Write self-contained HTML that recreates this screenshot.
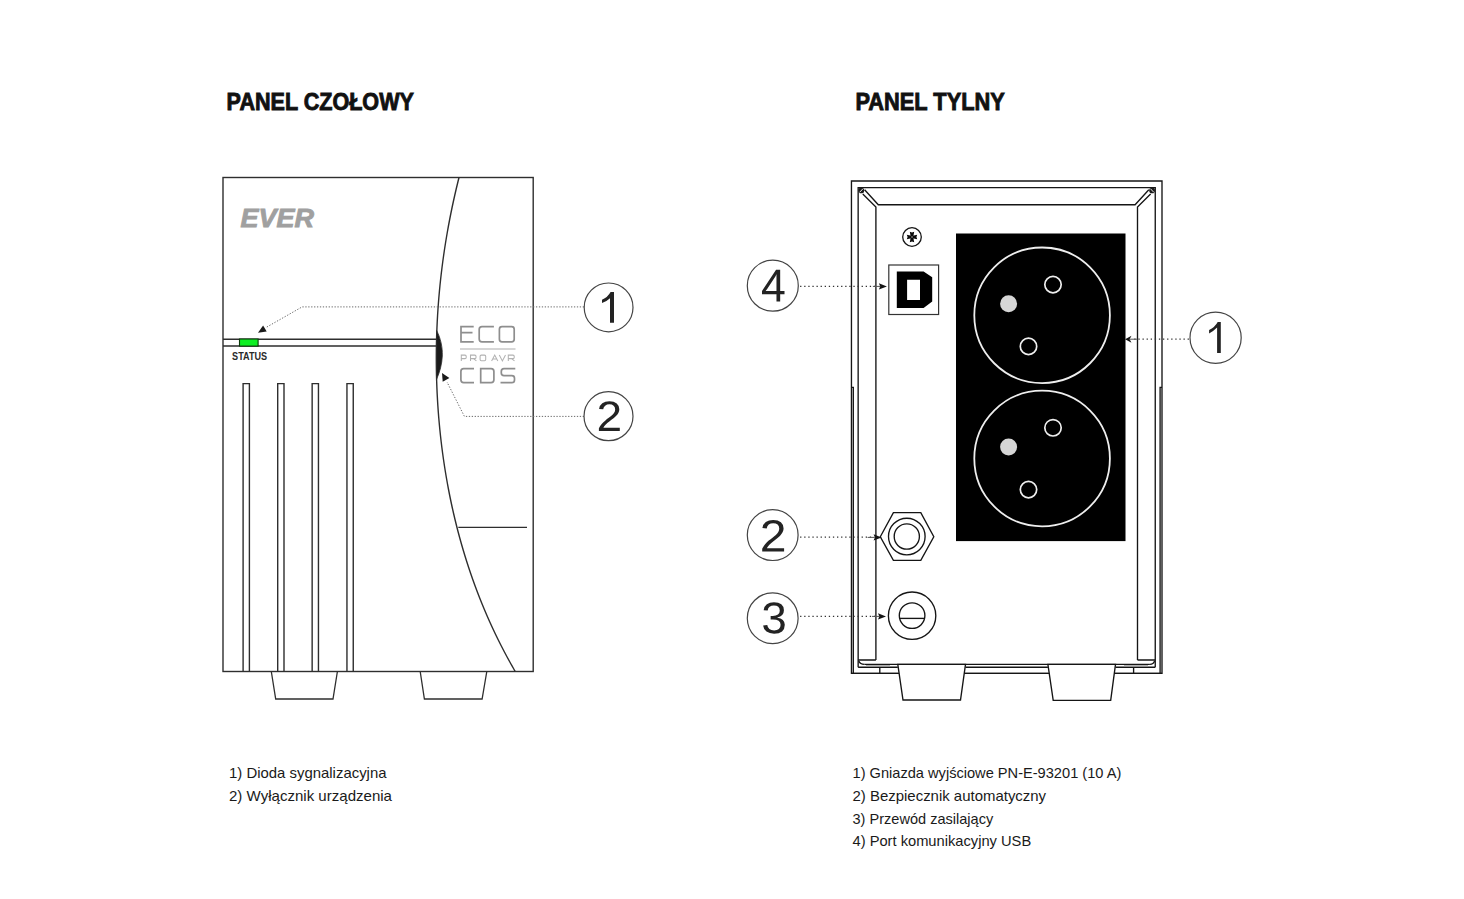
<!DOCTYPE html>
<html><head><meta charset="utf-8"><style>
html,body{margin:0;padding:0;background:#fff;width:1464px;height:899px;overflow:hidden}
svg{display:block}
text{font-family:"Liberation Sans",sans-serif}
</style></head><body>
<svg width="1464" height="899" viewBox="0 0 1464 899">
<rect width="1464" height="899" fill="#fff"/>
<text x="226.6" y="109.8" font-family="Liberation Sans" font-weight="bold" font-size="24" fill="#111" stroke="#111" stroke-width="0.9" textLength="187.3" lengthAdjust="spacingAndGlyphs">PANEL CZOŁOWY</text>
<text x="855.4" y="109.8" font-family="Liberation Sans" font-weight="bold" font-size="24" fill="#111" stroke="#111" stroke-width="0.9" textLength="149.4" lengthAdjust="spacingAndGlyphs">PANEL TYLNY</text>
<rect x="223" y="177.5" width="310.2" height="494" fill="none" stroke="#2e2e2e" stroke-width="1.4"/>
<path d="M459.01,177.50 C458.76,178.50 458.01,181.50 457.52,183.50 C457.03,185.50 456.55,187.50 456.08,189.50 C455.61,191.50 455.15,193.50 454.70,195.50 C454.24,197.50 453.80,199.50 453.36,201.50 C452.92,203.50 452.49,205.50 452.07,207.50 C451.65,209.50 451.24,211.50 450.84,213.50 C450.44,215.50 450.04,217.50 449.66,219.50 C449.27,221.50 448.89,223.50 448.52,225.50 C448.15,227.50 447.79,229.50 447.44,231.50 C447.09,233.50 446.75,235.50 446.41,237.50 C446.07,239.50 445.75,241.50 445.43,243.50 C445.11,245.50 444.80,247.50 444.50,249.50 C444.20,251.50 443.90,253.50 443.62,255.50 C443.33,257.50 443.06,259.50 442.79,261.50 C442.52,263.50 442.26,265.50 442.01,267.50 C441.76,269.50 441.51,271.50 441.28,273.50 C441.04,275.50 440.82,277.50 440.60,279.50 C440.38,281.50 440.17,283.50 439.97,285.50 C439.77,287.50 439.58,289.50 439.39,291.50 C439.21,293.50 439.03,295.50 438.86,297.50 C438.69,299.50 438.53,301.50 438.38,303.50 C438.23,305.50 438.09,307.50 437.95,309.50 C437.82,311.50 437.69,313.50 437.57,315.50 C437.45,317.50 437.34,319.50 437.24,321.50 C437.14,323.50 437.05,325.50 436.96,327.50 C436.87,329.50 436.80,331.50 436.73,333.50 C436.66,335.50 436.60,337.50 436.55,339.50 C436.49,341.50 436.45,343.50 436.42,345.50 C436.38,347.50 436.35,349.50 436.33,351.50 C436.31,353.50 436.30,355.50 436.30,357.50 C436.30,359.50 436.30,361.50 436.32,363.50 C436.33,365.50 436.35,367.50 436.38,369.50 C436.42,371.50 436.45,373.50 436.50,375.50 C436.55,377.50 436.60,379.50 436.67,381.50 C436.73,383.50 436.81,385.50 436.89,387.50 C436.97,389.50 437.06,391.50 437.15,393.50 C437.25,395.50 437.36,397.50 437.47,399.50 C437.59,401.50 437.71,403.50 437.84,405.50 C437.97,407.50 438.11,409.50 438.26,411.50 C438.41,413.50 438.57,415.50 438.73,417.50 C438.90,419.50 439.07,421.50 439.26,423.50 C439.44,425.50 439.63,427.50 439.83,429.50 C440.03,431.50 440.24,433.50 440.46,435.50 C440.67,437.50 440.90,439.50 441.14,441.50 C441.37,443.50 441.62,445.50 441.87,447.50 C442.12,449.50 442.38,451.50 442.66,453.50 C442.93,455.50 443.21,457.50 443.50,459.50 C443.79,461.50 444.08,463.50 444.39,465.50 C444.70,467.50 445.01,469.50 445.34,471.50 C445.67,473.50 446.00,475.50 446.35,477.50 C446.69,479.50 447.04,481.50 447.41,483.50 C447.77,485.50 448.14,487.50 448.53,489.50 C448.91,491.50 449.30,493.50 449.70,495.50 C450.11,497.50 450.52,499.50 450.94,501.50 C451.36,503.50 451.79,505.50 452.23,507.50 C452.68,509.50 453.13,511.50 453.59,513.50 C454.05,515.50 454.52,517.50 455.01,519.50 C455.49,521.50 455.98,523.50 456.48,525.50 C456.99,527.50 457.50,529.50 458.02,531.50 C458.55,533.50 459.08,535.50 459.63,537.50 C460.18,539.50 460.73,541.50 461.30,543.50 C461.87,545.50 462.45,547.50 463.04,549.50 C463.63,551.50 464.23,553.50 464.84,555.50 C465.46,557.50 466.08,559.50 466.72,561.50 C467.35,563.50 468.00,565.50 468.66,567.50 C469.32,569.50 469.99,571.50 470.68,573.50 C471.36,575.50 472.06,577.50 472.77,579.50 C473.48,581.50 474.20,583.50 474.93,585.50 C475.67,587.50 476.41,589.50 477.17,591.50 C477.93,593.50 478.71,595.50 479.49,597.50 C480.28,599.50 481.08,601.50 481.89,603.50 C482.70,605.50 483.53,607.50 484.37,609.50 C485.21,611.50 486.06,613.50 486.93,615.50 C487.80,617.50 488.68,619.50 489.58,621.50 C490.48,623.50 491.39,625.50 492.32,627.50 C493.24,629.50 494.18,631.50 495.14,633.50 C496.10,635.50 497.07,637.50 498.05,639.50 C499.04,641.50 500.04,643.50 501.06,645.50 C502.08,647.50 503.12,649.50 504.17,651.50 C505.22,653.50 506.29,655.50 507.37,657.50 C508.46,659.50 509.56,661.50 510.67,663.50 C511.79,665.50 513.32,668.17 514.08,669.50 C514.84,670.83 515.05,671.17 515.24,671.50" fill="none" stroke="#2e2e2e" stroke-width="1.4"/>
<path d="M436.6,330.4 C440.8,338.5 442.6,347.5 442.3,356 C442,364 439.8,372 436.6,379.2 Z" fill="#1a1a1a" stroke="#2e2e2e" stroke-width="0.8"/>
<path d="M223,339.2 H436.6 M223,346 H436.6" stroke="#2e2e2e" stroke-width="1.4" fill="none"/>
<rect x="239.5" y="339" width="18.6" height="7.1" fill="#0def22" stroke="#0b3a0b" stroke-width="1.1"/>
<text x="232.1" y="359.9" font-family="Liberation Sans" font-weight="bold" font-size="10.4" fill="#2a2a2a" textLength="35" lengthAdjust="spacingAndGlyphs">STATUS</text>
<path d="M243.10,671.5 V383.6 H249.40 V671.5" fill="none" stroke="#2e2e2e" stroke-width="1.4"/>
<path d="M277.70,671.5 V383.6 H284.00 V671.5" fill="none" stroke="#2e2e2e" stroke-width="1.4"/>
<path d="M312.15,671.5 V383.6 H318.45 V671.5" fill="none" stroke="#2e2e2e" stroke-width="1.4"/>
<path d="M346.95,671.5 V383.6 H353.25 V671.5" fill="none" stroke="#2e2e2e" stroke-width="1.4"/>
<path d="M458.3,527.3 H527" stroke="#2e2e2e" stroke-width="1.3"/>
<path d="M271.3,671.5 L275.7,699 H333 L337.4,671.5" fill="none" stroke="#2e2e2e" stroke-width="1.3"/>
<path d="M420.2,671.5 L424.4,699 H482.1 L486.8,671.5" fill="none" stroke="#2e2e2e" stroke-width="1.3"/>
<text x="240.6" y="226.8" font-family="Liberation Sans" font-weight="bold" font-style="italic" font-size="25.6" fill="#a0a0a0" stroke="#a0a0a0" stroke-width="0.9" textLength="73.4" lengthAdjust="spacingAndGlyphs">EVER</text>
<g fill="none" stroke="#8e8e8e" stroke-width="1.7" stroke-linecap="butt"><path d="M473.7,326.6 H461 V341.8 H473.7 M461,332.6 H472.5"/><path d="M493.9,326.6 H482 Q479.2,326.6 479.2,329.4 V339 Q479.2,341.8 482,341.8 H493.9"/><rect x="499.4" y="326.6" width="14.8" height="15.2" rx="2.6"/><path d="M474,368.7 H463.7 Q460.9,368.7 460.9,371.5 V379.8 Q460.9,382.6 463.7,382.6 H474"/><path d="M480.7,368.7 H491.1 Q493.9,368.7 493.9,371.5 V379.8 Q493.9,382.6 491.1,382.6 H480.7 Z"/><path d="M515.3,368.7 H504 Q501.3,368.7 501.3,371.4 V373.1 Q501.3,375.6 504,375.6 H511.8 Q514.5,375.6 514.5,378.2 V379.9 Q514.5,382.6 511.8,382.6 H500.5"/></g>
<path d="M460,349 H515.5" stroke="#c8c8c8" stroke-width="1.5"/>
<g fill="none" stroke="#b2b2b2" stroke-width="1.05"><path d="M461.3,360.9 V355.1 H465 Q466.2,355.1 466.2,356.3 V357.4 Q466.2,358.6 465,358.6 H461.3"/><path d="M470.5,360.9 V355.1 H474.8 Q476,355.1 476,356.3 V357.4 Q476,358.6 474.8,358.6 H470.5 M473.5,358.6 L476.4,360.9"/><rect x="480.1" y="355.1" width="5.6" height="5.6" rx="1.2"/><path d="M491.6,360.9 L494.7,355.1 L497.8,360.9 M492.8,358.9 H496.6"/><path d="M499.3,355.1 L502.4,360.9 L505.5,355.1"/><path d="M508.3,360.9 V355.1 H513 Q514.2,355.1 514.2,356.3 V357.4 Q514.2,358.6 513,358.6 H508.3 M511.5,358.6 L514.5,360.9"/></g>
<path d="M584,306.9 H302.1 L266,327.5" fill="none" stroke="#6a6a6a" stroke-width="1" stroke-dasharray="1.3 1.62"/>
<path d="M258,332.7 L263.1,325.6 L266.7,331.4 Z" fill="#1a1a1a"/>
<path d="M584,416.4 H464.4 L447,382" fill="none" stroke="#6a6a6a" stroke-width="1" stroke-dasharray="1.3 1.62"/>
<path d="M442,373 L449.4,378 L442.7,381.7 Z" fill="#1a1a1a"/>
<circle cx="608.6" cy="307.4" r="24.4" fill="#fff" stroke="#444" stroke-width="1.2"/>
<path d="M614.0,292.0 V322.8 H610.0 V298.3 Q606.80,301.50 602.0,303.0 V299.8 Q607.80,297.20 610.60,292.0 Z" fill="#232323"/>
<circle cx="608.5" cy="416.2" r="24.5" fill="#fff" stroke="#444" stroke-width="1.2"/>
<path d="M598.90 430.90V428.27Q600.04 425.85 601.69 424.00Q603.34 422.14 605.15 420.64Q606.96 419.14 608.75 417.86Q610.53 416.58 611.96 415.29Q613.39 414.01 614.28 412.60Q615.16 411.19 615.16 409.41Q615.16 407.01 613.64 405.69Q612.12 404.36 609.41 404.36Q606.83 404.36 605.16 405.66Q603.49 406.95 603.20 409.29L599.08 408.94Q599.53 405.44 602.29 403.37Q605.06 401.30 609.41 401.30Q614.18 401.30 616.74 403.38Q619.31 405.46 619.31 409.29Q619.31 410.99 618.47 412.66Q617.63 414.34 615.97 416.02Q614.31 417.69 609.63 421.21Q607.05 423.16 605.53 424.72Q604.01 426.28 603.34 427.73H619.80V430.90Z" fill="#232323"/>
<text x="229" y="777.8" font-family="Liberation Sans" font-size="14.2" fill="#1a1a1a" textLength="157.5" lengthAdjust="spacingAndGlyphs">1) Dioda sygnalizacyjna</text>
<text x="229" y="801" font-family="Liberation Sans" font-size="14.2" fill="#1a1a1a" textLength="163" lengthAdjust="spacingAndGlyphs">2) Wyłącznik urządzenia</text>
<g fill="none" stroke="#151515" stroke-width="1.35">
<path d="M851.45,673.4 V181 H1162 V673.4 Z"/>
<path d="M853.3,673.4 V387.4 H851.45 M1160.1,673.4 V387.4 H1162"/>
<path d="M858.15,667.2 V187.6 H1155.25 V667.2"/>
<path d="M864.6,189.8 L878.3,204.7 H1135.1 L1148.8,189.8"/>
<path d="M862.8,194 L875.9,207 V660 M1150.6,194 L1137.5,207 V660"/>
<path d="M858.15,660 H875.9 M1137.5,660 H1155.25"/>
</g>
<circle cx="861.3" cy="190.4" r="2.9" fill="#1a1a1a"/>
<circle cx="1152.1" cy="190.4" r="2.9" fill="#1a1a1a"/>
<path d="M859.6,192.3 L863,188.7 M1153.8,192.3 L1150.4,188.7" stroke="#eee" stroke-width="1"/>
<path d="M897.8,664.3 L903,700 H960.5 L965.5,664.3 Z" fill="#fff" stroke="#151515" stroke-width="1.35"/>
<path d="M1047.9,664.3 L1053.2,700.3 H1110.7 L1115.5,664.3 Z" fill="#fff" stroke="#151515" stroke-width="1.35"/>
<g fill="none" stroke="#151515" stroke-width="1.35">
<path d="M858.15,667.2 H897.8 M965.5,667.2 H1047.9 M1115.5,667.2 H1155.25"/>
<path d="M851.45,673.4 H898.7 M964.6,673.4 H1048.8 M1114.6,673.4 H1162"/>
<path d="M864.5,664.3 H1149.9"/>
<path d="M879.8,667.2 V673.4 M1133.6,667.2 V673.4"/>
<path d="M858.8,661 Q860,664.3 864.5,664.3 M1154.6,661 Q1153.4,664.3 1149.9,664.3"/>
</g>
<path d="M866,665.8 H890 M1124,665.8 H1148" stroke="#9a9a9a" stroke-width="1.2"/>
<rect x="956" y="233.5" width="169.5" height="307.6" fill="#000"/>
<circle cx="1042.1" cy="315.3" r="67.8" fill="none" stroke="#eee" stroke-width="1.8"/>
<circle cx="1008.6" cy="303.8" r="8.5" fill="#d6d6d6"/>
<circle cx="1053" cy="284.6" r="8.2" fill="none" stroke="#eee" stroke-width="1.7"/>
<circle cx="1028.5" cy="346.4" r="8.2" fill="none" stroke="#eee" stroke-width="1.7"/>
<circle cx="1042.1" cy="458.5" r="67.8" fill="none" stroke="#eee" stroke-width="1.8"/>
<circle cx="1008.6" cy="447.0" r="8.5" fill="#d6d6d6"/>
<circle cx="1053" cy="427.8" r="8.2" fill="none" stroke="#eee" stroke-width="1.7"/>
<circle cx="1028.5" cy="489.6" r="8.2" fill="none" stroke="#eee" stroke-width="1.7"/>
<circle cx="912" cy="237" r="9.3" fill="#fff" stroke="#151515" stroke-width="1.3"/>
<g transform="translate(912,237)" fill="#0a0a0a"><path d="M-0.5,-1.1 L5.2,-2.2 L4.4,0 L5.2,2.2 L-0.5,1.1 Z" transform="rotate(0)"/><path d="M-0.5,-1.1 L5.2,-2.2 L4.4,0 L5.2,2.2 L-0.5,1.1 Z" transform="rotate(90)"/><path d="M-0.5,-1.1 L5.2,-2.2 L4.4,0 L5.2,2.2 L-0.5,1.1 Z" transform="rotate(180)"/><path d="M-0.5,-1.1 L5.2,-2.2 L4.4,0 L5.2,2.2 L-0.5,1.1 Z" transform="rotate(270)"/><circle r="0.8" fill="#aaa"/></g>
<rect x="888.8" y="265" width="49.8" height="49.5" fill="#fff" stroke="#333" stroke-width="1.2"/>
<path d="M896.8,271.5 H923.6 L932.2,277.3 V301.6 L923.6,308.1 H896.8 Z M907.1,279.8 V300 H920 V279.8 Z" fill="#000" fill-rule="evenodd"/>
<path d="M880.3,536.8 L893.4,512.6 H920.8 L933.8,536.8 L920.8,560.4 H893.4 Z" fill="#fff" stroke="#151515" stroke-width="1.35"/>
<circle cx="906.8" cy="536.5" r="18.3" fill="none" stroke="#151515" stroke-width="1.35"/>
<circle cx="906.8" cy="536.5" r="12.6" fill="none" stroke="#151515" stroke-width="1.35"/>
<circle cx="912.1" cy="615.7" r="23.7" fill="#fff" stroke="#151515" stroke-width="1.35"/>
<circle cx="912.1" cy="615.6" r="12.8" fill="none" stroke="#151515" stroke-width="1.35"/>
<path d="M899.3,618.4 H924.9" stroke="#151515" stroke-width="1.35"/>
<g fill="none" stroke="#333" stroke-width="1.25" stroke-dasharray="1.3 2.8">
<path d="M796,286.4 H876"/>
<path d="M796,537.2 H872"/>
<path d="M796,616.4 H877"/>
<path d="M1193,339.2 H1133"/>
</g>
<path d="M886.9,286.4 L878.90,283.25 L880.20,286.4 L878.90,289.55 Z" fill="#141414"/>
<path d="M880.20,286.4 H872.90" stroke="#555" stroke-width="1"/>
<path d="M881.6,537.4 L873.60,534.25 L874.90,537.4 L873.60,540.55 Z" fill="#141414"/>
<path d="M874.90,537.4 H867.60" stroke="#555" stroke-width="1"/>
<path d="M886.0,616.4 L878.00,613.25 L879.30,616.4 L878.00,619.55 Z" fill="#141414"/>
<path d="M879.30,616.4 H872.00" stroke="#555" stroke-width="1"/>
<path d="M1125.1,339.2 L1131.50,335.70 L1129.60,339.2 L1131.50,342.70 Z" fill="#141414"/>
<path d="M1129.60,339.2 H1137.50" stroke="#555" stroke-width="1"/>
<circle cx="772.8" cy="285.7" r="25.5" fill="#fff" stroke="#444" stroke-width="1.2"/>
<path d="M780.18 294.25V301.40H776.48V294.25H762.00V291.11L776.06 269.80H780.18V291.06H784.50V294.25ZM776.48 274.35Q776.43 274.49 775.87 275.54Q775.30 276.60 775.02 277.02L767.15 288.95L765.97 290.61L765.62 291.06H776.48Z" fill="#232323"/>
<circle cx="772.7" cy="535.1" r="25.4" fill="#fff" stroke="#444" stroke-width="1.2"/>
<path d="M762.20 551.60V548.78Q763.40 546.19 765.12 544.21Q766.85 542.22 768.75 540.62Q770.65 539.01 772.52 537.63Q774.38 536.26 775.88 534.89Q777.39 533.51 778.31 532.00Q779.24 530.50 779.24 528.59Q779.24 526.02 777.65 524.60Q776.05 523.18 773.21 523.18Q770.51 523.18 768.76 524.57Q767.01 525.95 766.71 528.46L762.39 528.08Q762.86 524.33 765.76 522.12Q768.65 519.90 773.21 519.90Q778.21 519.90 780.90 522.13Q783.58 524.36 783.58 528.46Q783.58 530.27 782.70 532.07Q781.82 533.87 780.09 535.66Q778.35 537.46 773.44 541.23Q770.74 543.31 769.15 544.98Q767.55 546.66 766.85 548.21H784.10V551.60Z" fill="#232323"/>
<circle cx="772.7" cy="618.2" r="25.4" fill="#fff" stroke="#444" stroke-width="1.2"/>
<path d="M784.80 624.81Q784.80 629.05 782.03 631.38Q779.26 633.70 774.12 633.70Q769.34 633.70 766.49 631.60Q763.64 629.51 763.10 625.40L767.26 625.03Q768.06 630.46 774.12 630.46Q777.16 630.46 778.89 629.01Q780.62 627.55 780.62 624.68Q780.62 622.19 778.64 620.79Q776.67 619.38 772.93 619.38H770.65V615.99H772.84Q776.15 615.99 777.97 614.59Q779.79 613.19 779.79 610.72Q779.79 608.26 778.31 606.84Q776.82 605.42 773.89 605.42Q771.23 605.42 769.59 606.74Q767.95 608.07 767.68 610.48L763.64 610.17Q764.08 606.41 766.84 604.31Q769.60 602.20 773.94 602.20Q778.68 602.20 781.30 604.34Q783.93 606.48 783.93 610.30Q783.93 613.24 782.24 615.07Q780.55 616.91 777.34 617.56V617.65Q780.87 618.02 782.83 619.95Q784.80 621.88 784.80 624.81Z" fill="#232323"/>
<circle cx="1215.6" cy="337.8" r="25.6" fill="#fff" stroke="#444" stroke-width="1.2"/>
<path d="M1220.8,322.1 V352.9 H1217.1 V327.4 Q1213.90,330.60 1209.1,333.5 V330.0 Q1214.90,327.40 1217.70,322.1 Z" fill="#232323"/>
<text x="852.5" y="778.2" font-family="Liberation Sans" font-size="14.2" fill="#1a1a1a" textLength="268.8" lengthAdjust="spacingAndGlyphs">1) Gniazda wyjściowe PN-E-93201 (10 A)</text>
<text x="852.5" y="800.6" font-family="Liberation Sans" font-size="14.2" fill="#1a1a1a" textLength="193.6" lengthAdjust="spacingAndGlyphs">2) Bezpiecznik automatyczny</text>
<text x="852.5" y="823.8" font-family="Liberation Sans" font-size="14.2" fill="#1a1a1a" textLength="140.7" lengthAdjust="spacingAndGlyphs">3) Przewód zasilający</text>
<text x="852.5" y="846.2" font-family="Liberation Sans" font-size="14.2" fill="#1a1a1a" textLength="178.7" lengthAdjust="spacingAndGlyphs">4) Port komunikacyjny USB</text>
</svg>
</body></html>
